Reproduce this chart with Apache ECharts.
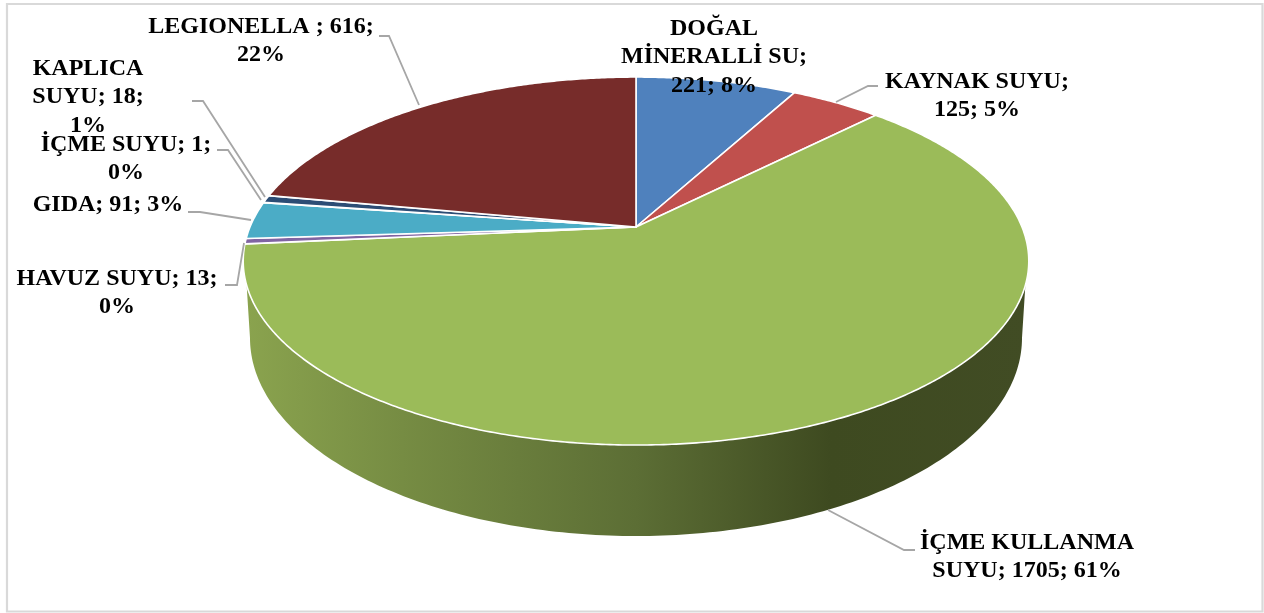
<!DOCTYPE html>
<html><head><meta charset="utf-8">
<style>html,body{margin:0;padding:0;background:#fff}#c{width:1264px;height:613px}</style>
<script src="https://cdn.jsdelivr.net/npm/echarts@6/dist/echarts.min.js"></script>
</head><body><div id="c"></div>
<script>
const categories = ['DOĞAL MİNERALLİ SU','KAYNAK SUYU','İÇME KULLANMA SUYU','HAVUZ SUYU','GIDA','İÇME SUYU','KAPLICA SUYU','LEGIONELLA'];
const values = [221,125,1705,13,91,1,18,616];
const percents = ['8%','5%','61%','0%','3%','0%','1%','22%'];
const colors = ['#4F81BD','#C0504D','#9BBB59','#8064A2','#4BACC6','#F79646','#2C4D75','#772C2A'];
const labelTexts = [
  'DOĞAL\nMİNERALLİ SU;\n221; 8%',
  'KAYNAK SUYU;\n125; 5%',
  'İÇME KULLANMA\nSUYU; 1705; 61%',
  'HAVUZ SUYU; 13;\n0%',
  'GIDA; 91; 3%',
  'İÇME SUYU; 1;\n0%',
  'KAPLICA\nSUYU; 18;\n1%',
  'LEGIONELLA ; 616;\n22%'
];
// layout of labels (text centre) and leader lines: separate from data
const labelCenters = [[714,57],[977,96],[1027,557],[117,293],[108,205],[126,159],[88,97],[261,41]];
const leaders = [
  null,
  [[878,86],[868,86],[836,102]],
  [[915,550],[904,550],[828,510]],
  [[225,285],[237,285],[244,243]],
  [[188,212],[200,212],[251,220]],
  [[217,150],[228,150],[261,200]],
  [[192,101],[203,101],[265,197]],
  [[379,36],[389,36],[419,105]]
];
// perspective geometry of the tilted pie
const G = {cx:636, cy:227, b:386, a:177.7, k:-0.185, botCy:338, botRy:198, botRx:386, wallFrom:108, wallTo:252};
const total = values.reduce((s,v)=>s+v,0);
const cum = []; values.reduce((s,v,i)=>(cum[i]=s, s+v),0);
const toDeg = v => v/total*360;
function project(deg){
  const r = deg*Math.PI/180, t = -Math.cos(r), d = 1+G.k*t;
  return [G.cx + G.b*Math.sin(r)/d, G.cy + G.a*t/d];
}
function arcPts(a0,a1){
  const n = Math.max(2,Math.ceil(Math.abs(a1-a0)*2)), p=[];
  for(let i=0;i<=n;i++) p.push(project(a0+(a1-a0)*i/n));
  return p;
}
const wallFill = new echarts.graphic.LinearGradient(0,0,1,0,[
  {offset:0,color:'#8aa34e'},{offset:0.2,color:'#768c43'},{offset:0.5,color:'#5c6e35'},
  {offset:0.75,color:'#3e4a20'},{offset:1,color:'#414c24'}]);
function renderWall(params){
  const i = params.dataIndex;
  const a0 = Math.max(toDeg(cum[i]),G.wallFrom), a1 = Math.min(toDeg(cum[i]+values[i]),G.wallTo);
  if(a1<=a0) return {type:'group',children:[]};
  const pts = arcPts(a0,a1);
  for(let d=180;d>=0;d-=1){
    const r=d*Math.PI/180;
    pts.push([G.cx+G.botRx*Math.cos(r), G.botCy+G.botRy*Math.sin(r)]);
  }
  return {type:'polygon',shape:{points:pts},style:{fill:wallFill,stroke:null}};
}
function renderSlice(params,api){
  const i = params.dataIndex;
  const a0 = toDeg(cum[i]), a1 = toDeg(cum[i]+api.value(0));
  const pts = [[G.cx,G.cy]].concat(arcPts(a0,a1));
  return {type:'polygon',shape:{points:pts},style:{fill:colors[i],stroke:'#fff',lineWidth:1.6,lineJoin:'round'}};
}
function renderLabel(params){
  const i = params.dataIndex, ch=[];
  if(leaders[i]) ch.push({type:'polyline',shape:{points:leaders[i]},style:{stroke:'#a6a6a6',lineWidth:1.8,fill:null}});
  ch.push({type:'text',x:labelCenters[i][0],y:labelCenters[i][1],style:{
    text:labelTexts[i],fill:'#000',font:'bold 24px "Liberation Serif"',lineHeight:28.3,
    align:'center',verticalAlign:'middle'}});
  return {type:'group',children:ch};
}
const seriesData = values.map((v,i)=>({name:categories[i],value:[v]}));
const chart = echarts.init(document.getElementById('c'),null,{renderer:'canvas'});
chart.setOption({
  animation:false,
  graphic:[{type:'rect',shape:{x:7,y:4,width:1255.5,height:607.5},style:{fill:'#fff',stroke:'#d9d9d9',lineWidth:2.2},z:-1}],
  series:[
    {type:'custom',coordinateSystem:'none',renderItem:renderWall,data:seriesData,z:2,silent:true},
    {type:'custom',coordinateSystem:'none',renderItem:renderSlice,data:seriesData,z:3,silent:true},
    {type:'custom',coordinateSystem:'none',renderItem:renderLabel,data:seriesData,z:4,silent:true}
  ]
});
</script></body></html>
